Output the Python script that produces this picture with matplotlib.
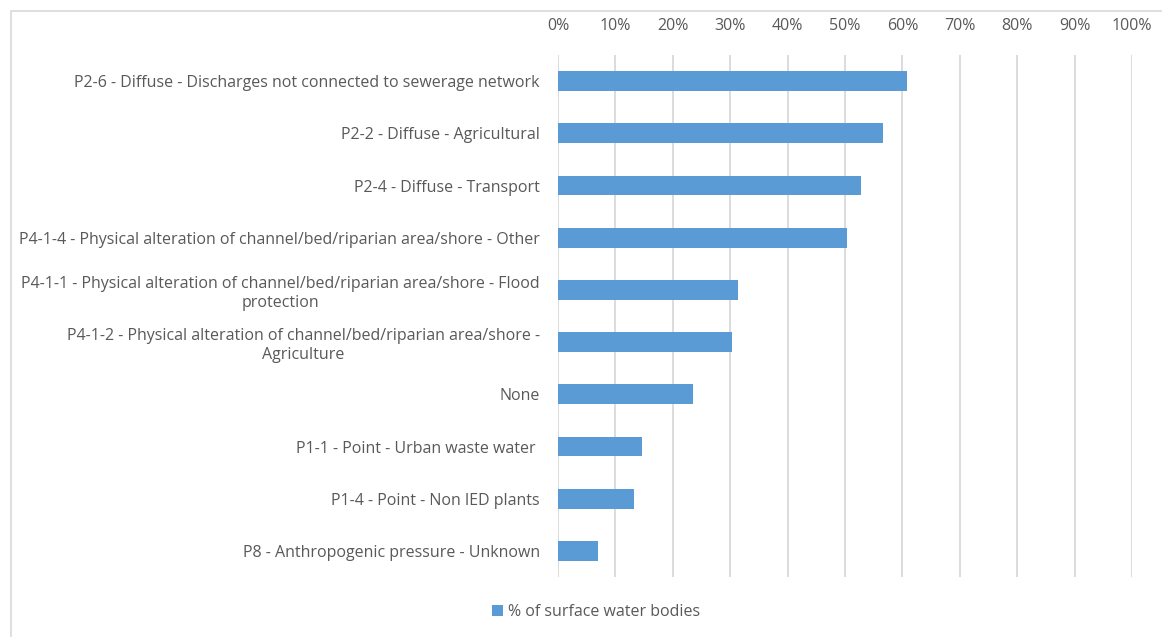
import matplotlib.pyplot as plt
from matplotlib.patches import Rectangle
from matplotlib.ticker import FuncFormatter

# categories listed top to bottom, as in the chart
labels = [
    "P2-6 - Diffuse - Discharges not connected to sewerage network",
    "P2-2 - Diffuse - Agricultural",
    "P2-4 - Diffuse - Transport",
    "P4-1-4 - Physical alteration of channel/bed/riparian area/shore - Other",
    "P4-1-1 - Physical alteration of channel/bed/riparian area/shore - Flood\nprotection",
    "P4-1-2 - Physical alteration of channel/bed/riparian area/shore -\nAgriculture",
    "None",
    "P1-1 - Point - Urban waste water ",
    "P1-4 - Point - Non IED plants",
    "P8 - Anthropogenic pressure - Unknown",
]
share = [0.608, 0.566, 0.528, 0.503, 0.314, 0.303, 0.236, 0.146, 0.132, 0.070]
series_name = "% of surface water bodies"

bar_color = "#5b9bd5"
text_color = "#595959"
grid_color = "#d9d9d9"

plt.rcParams["font.family"] = ["Open Sans", "DejaVu Sans"]

fig = plt.figure(figsize=(11.62, 6.37), dpi=100)
ax = fig.add_axes([558 / 1162, 1 - 577 / 637, 574 / 1162, 522 / 637])

ypos = list(range(len(labels)))
ax.barh(ypos, share, height=0.38, color=bar_color, label=series_name, zorder=3)
ax.set_ylim(len(labels) - 0.5, -0.5)
ax.set_xlim(0, 1)
ax.set_yticks(ypos)
ax.set_yticklabels(labels, fontsize=11.5, color=text_color,
                   multialignment="center", linespacing=1.25)
ax.set_xticks([i / 10 for i in range(11)])
ax.xaxis.set_major_formatter(FuncFormatter(lambda v, p: f"{v:.0%}"))
ax.xaxis.tick_top()
ax.tick_params(axis="x", length=0, labelsize=11.5, labelcolor=text_color, pad=15)
ax.tick_params(axis="y", length=0, pad=13)
ax.grid(axis="x", color=grid_color, linewidth=1.3, zorder=0)
for s in ax.spines.values():
    s.set_visible(False)

fig.legend(loc="center", bbox_to_anchor=(596 / 1162, 1 - 612 / 637), frameon=False,
           fontsize=11.5, labelcolor=text_color, handlelength=0.7, handleheight=0.7,
           handletextpad=0.3)

# outer chart border, cropped on the right and bottom
fig.patches.append(Rectangle((11 / 1162, -0.1), 1.2, 1 - 11 / 637 + 0.1,
                             transform=fig.transFigure, fill=False,
                             edgecolor=grid_color, linewidth=1.2))

fig.savefig("out.png", dpi=100)
